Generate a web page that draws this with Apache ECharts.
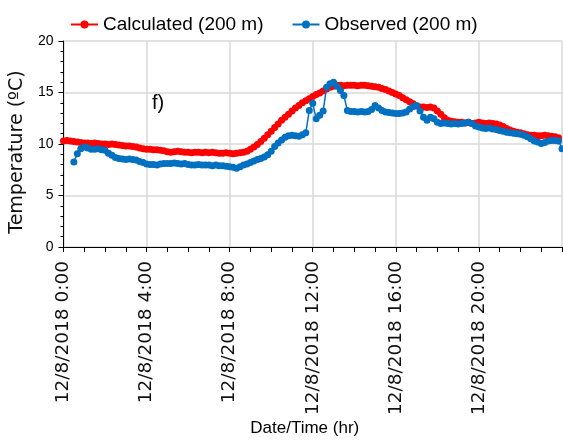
<!DOCTYPE html>
<html>
<head>
<meta charset="utf-8">
<script src="https://cdn.jsdelivr.net/npm/echarts@6/dist/echarts.min.js"></script>
<style>
    html, body { margin: 0; padding: 0; background: #fff; }
    #chart { width: 563px; height: 441px; }
</style>
</head>
<body>
<div id="chart"></div>
<script>
// 10-minute steps over the day, 0:00 to 24:00
var times = [];
for (var h = 0; h <= 24; h++) {
    for (var m = 0; m < 60; m += 10) {
        if (h === 24 && m > 0) break;
        times.push('12/8/2018 ' + h + ':' + (m < 10 ? '0' + m : m));
    }
}

// Calculated (200 m), one row per hour
var calculated = [
    10.3, 10.35, 10.3, 10.25, 10.2, 10.15,
    10.1, 10.1, 10.05, 10.1, 10.05, 10.0,
    10.0, 9.95, 10.0, 9.95, 9.9, 9.85,
    9.8, 9.8, 9.75, 9.7, 9.6, 9.55,
    9.5, 9.5, 9.45, 9.45, 9.4, 9.35,
    9.25, 9.2, 9.25, 9.3, 9.25, 9.2,
    9.2, 9.15, 9.2, 9.2, 9.15, 9.2,
    9.15, 9.2, 9.15, 9.1, 9.1, 9.15,
    9.1, 9.05, 9.1, 9.15, 9.2, 9.3,
    9.5, 9.7, 9.95, 10.25, 10.55, 10.9,
    11.25, 11.6, 11.95, 12.3, 12.6, 12.9,
    13.2, 13.5, 13.75, 14.0, 14.2, 14.4,
    14.6, 14.8, 14.95, 15.15, 15.35, 15.5,
    15.6, 15.7, 15.7, 15.65, 15.7, 15.7,
    15.7, 15.65, 15.7, 15.7, 15.65, 15.6,
    15.55, 15.5, 15.4, 15.3, 15.15, 15.0,
    14.85, 14.7, 14.5, 14.3, 14.1, 13.9,
    13.7, 13.6, 13.6, 13.55, 13.6, 13.5,
    13.2, 12.9, 12.55, 12.3, 12.2, 12.15,
    12.1, 12.1, 12.05, 12.1, 12.0, 12.05,
    12.1, 12.05, 12.0, 12.05, 12.0, 11.95,
    11.85, 11.7, 11.5, 11.35, 11.25, 11.15,
    11.1, 11.0, 10.9, 10.85, 10.85, 10.8,
    10.8, 10.85, 10.8, 10.75, 10.7, 10.6,
    null
];

// Observed (200 m)
var observed = [
    null, null, null, 8.25, 9.05, 9.55,
    9.7, 9.6, 9.5, 9.5, 9.55, 9.45,
    9.4, 9.1, 8.9, 8.7, 8.6, 8.55,
    8.5, 8.55, 8.5, 8.45, 8.3, 8.2,
    8.05, 8.0, 8.0, 7.95, 8.05, 8.1,
    8.1, 8.1, 8.15, 8.1, 8.05, 8.1,
    8.0, 7.95, 7.95, 8.0, 7.95, 7.95,
    7.95, 7.9, 7.95, 7.9, 7.9, 7.85,
    7.8, 7.75, 7.65, 7.8, 7.95, 8.05,
    8.2, 8.35, 8.5, 8.6, 8.75, 8.95,
    9.3, 9.75, 10.1, 10.4, 10.65, 10.8,
    10.85, 10.8, 10.75, 10.9, 11.1, 13.25,
    13.95, 12.45, 12.8, 13.2, 15.5, 15.85,
    16.0, 15.6, 15.2, 14.7, 13.25, 13.15,
    13.15, 13.1, 13.15, 13.1, 13.15, 13.35,
    13.75, 13.5, 13.25, 13.1, 13.05, 13.0,
    12.95, 12.95, 13.0, 13.1, 13.4, 13.65,
    13.75, 13.2, 12.6, 12.3, 12.6, 12.45,
    12.1, 12.0, 12.05, 12.0, 11.95, 12.0,
    11.95, 12.0, 12.05, 12.1, 12.0, 11.75,
    11.65, 11.55, 11.5, 11.55, 11.45, 11.4,
    11.3, 11.25, 11.15, 11.1, 11.05, 11.0,
    10.95, 10.85, 10.7, 10.5, 10.3, 10.2,
    10.05, 10.15, 10.3, 10.35, 10.35, 10.3,
    9.55
];

var yTicks = [0, 5, 10, 15, 20];

var chart = echarts.init(document.getElementById('chart'));

var option = {
    animation: false,
    backgroundColor: '#fff',
    textStyle: { fontFamily: 'Liberation Sans, Arial, sans-serif' },
    legend: {
        left: 65,
        top: 10,
        itemWidth: 27,
        itemHeight: 10,
        itemGap: 28,
        textStyle: { fontSize: 19, color: '#000' },
        data: ['Calculated (200 m)', 'Observed (200 m)']
    },
    grid: { left: 63, right: 1, top: 41, bottom: 194, containLabel: false },
    graphic: [{
        type: 'text',
        left: 152,
        top: 93,
        style: { text: 'f)', fontSize: 20, fill: '#000', fontFamily: 'Liberation Sans, Arial, sans-serif' }
    }],
    xAxis: {
        type: 'category',
        data: times,
        boundaryGap: false,
        name: 'Date/Time (hr)',
        nameLocation: 'middle',
        nameGap: 173,
        nameTextStyle: { fontSize: 17, color: '#000', padding: [0, 16, 0, 0] },
        axisLine: { lineStyle: { color: '#000', width: 1 } },
        axisTick: {
            interval: function (i) { return i % 6 === 0; },
            length: 5,
            lineStyle: { color: '#000' }
        },
        axisLabel: {
            interval: function (i) { return i % 24 === 0 && i < 144; },
            rotate: 90,
            margin: 14,
            fontSize: 18.5,
            fontFamily: 'DejaVu Sans',
            color: '#111'
        },
        splitLine: {
            show: true,
            interval: function (i) { return i % 24 === 0; },
            lineStyle: { color: '#D9D9D9', width: 1.5 }
        }
    },
    yAxis: {
        type: 'value',
        min: yTicks[0],
        max: yTicks[yTicks.length - 1],
        interval: 5,
        name: 'Temperature (ºC)',
        nameLocation: 'middle',
        nameRotate: 90,
        nameGap: 32,
        nameTextStyle: { fontSize: 19, color: '#111', fontFamily: 'DejaVu Sans', padding: [0, 16, 0, 0] },
        axisLine: { show: true, lineStyle: { color: '#000', width: 1 } },
        axisTick: { show: true, length: 5, lineStyle: { color: '#000' } },
        minorTick: { show: true, splitNumber: 5, length: 3, lineStyle: { color: '#000' } },
        axisLabel: { fontSize: 14, color: '#000', margin: 10 },
        splitLine: { lineStyle: { color: '#D9D9D9', width: 1.5 } }
    },
    series: [
        {
            name: 'Calculated (200 m)',
            type: 'line',
            data: calculated,
            color: '#FF0000',
            symbol: 'circle',
            symbolSize: 7,
            showAllSymbol: true,
            lineStyle: { width: 1.5 },
            z: 2
        },
        {
            name: 'Observed (200 m)',
            type: 'line',
            data: observed,
            color: '#0070C0',
            symbol: 'circle',
            symbolSize: 7,
            showAllSymbol: true,
            lineStyle: { width: 1.5 },
            z: 3
        }
    ]
};

chart.setOption(option);
</script>
</body>
</html>
